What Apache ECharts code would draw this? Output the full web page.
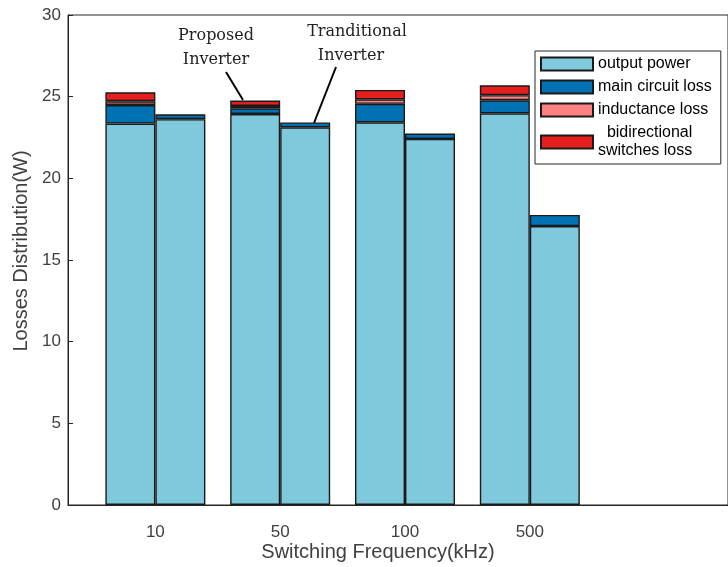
<!DOCTYPE html>
<html><head><meta charset="utf-8">
<script src="https://cdn.jsdelivr.net/npm/echarts@6/dist/echarts.min.js"></script>
<style>html,body{margin:0;padding:0;background:#fff}#c{width:728px;height:567px}</style>
</head><body><div id="c"></div>
<script>
// ---- data ----
const categories = ['10', '50', '100', '500'];
const propOutput = [23.35, 23.94, 23.43, 23.98];
const propMain = [1.14, 0.35, 1.13, 0.80];
const propInductance = [0.23, 0.14, 0.28, 0.31];
const propSwitch = [0.55, 0.33, 0.57, 0.61];
const tradOutput = [23.62, 23.12, 22.41, 17.08];
const tradMain = [0.30, 0.30, 0.33, 0.68];
const yTicks = [0, 5, 10, 15, 20, 25, 30];
const legendNames = ['output power', 'main circuit loss', 'inductance loss', 'bidirectional switches loss'];

const colors = {
  output: '#7FC9DC',
  main: '#0072B4',
  ind: '#FF8282',
  sw: '#E61E1E'
};
const edge = { borderColor: '#1a1a1a', borderWidth: 1.4 };
const FONT = 'Liberation Sans, Arial, sans-serif';

// frame axis spans groups 0.3 .. 5.7 ; bar axis covers groups 0.5 .. 4.5
const frameLeft = 68, frameRightPx = 742;
const groupPx = (frameRightPx - frameLeft) / 5.4;
const barLeft = frameLeft + 0.2 * groupPx;
const barRight = 728 - (frameRightPx - 1.2 * groupPx);

const chart = echarts.init(document.getElementById('c'), null, { renderer: 'canvas' });

function bar(name, stack, vals, color) {
  return {
    type: 'bar', name, stack, data: vals,
    xAxisIndex: 1, yAxisIndex: 1,
    barWidth: 50, barGap: '0%',
    itemStyle: Object.assign({ color }, edge),
    emphasis: { disabled: true }, animation: false
  };
}

chart.setOption({
  backgroundColor: '#fff',
  animation: false,
  grid: [
    { left: frameLeft, top: 15, bottom: 62, right: 728 - frameRightPx, show: true, borderColor: '#262626', borderWidth: 1, backgroundColor: 'transparent' },
    { left: barLeft, top: 15, bottom: 62, right: barRight }
  ],
  legend: {
    data: legendNames,
    orient: 'vertical', left: 535, top: 51,
    borderColor: '#262626', borderWidth: 1, backgroundColor: '#fff',
    padding: [4, 9, 4, 5],
    itemWidth: 52, itemHeight: 13, itemGap: 5,
    icon: 'rect',
    textStyle: { fontFamily: FONT, fontSize: 16, color: '#000', lineHeight: 18 },
    formatter: n => n === 'bidirectional switches loss' ? '  bidirectional\nswitches loss' : n
  },
  xAxis: [
    {
      type: 'value', min: 0.3, max: 5.7, gridIndex: 0,
      name: 'Switching Frequency(kHz)', nameLocation: 'middle', nameGap: 37,
      nameTextStyle: { fontFamily: FONT, fontSize: 20, color: '#404040', padding: [0, 40, 0, 0] },
      axisLine: { show: true, lineStyle: { color: '#262626', width: 1 } },
      axisTick: { show: false }, splitLine: { show: false }, axisLabel: { show: false }
    },
    {
      type: 'category', data: categories, gridIndex: 1,
      axisLine: { show: false }, axisTick: { show: false }, splitLine: { show: false },
      axisLabel: { fontFamily: FONT, fontSize: 17, color: '#404040', margin: 19 }
    }
  ],
  yAxis: [
    {
      type: 'value', min: 0, max: 30, interval: 5, gridIndex: 0,
      name: 'Losses Distribution(W)', nameLocation: 'middle', nameGap: 34,
      nameTextStyle: { fontFamily: FONT, fontSize: 20, color: '#404040', padding: [0, 0, 0, 18] },
      axisLine: { show: true, lineStyle: { color: '#262626', width: 1 } },
      axisTick: { show: true, inside: true, length: 5, lineStyle: { color: '#262626' } },
      splitLine: { show: false },
      axisLabel: { fontFamily: FONT, fontSize: 17, color: '#404040', margin: 7, formatter: v => yTicks.includes(v) ? String(v) : '' }
    },
    {
      type: 'value', min: 0, max: 30, gridIndex: 1, show: false, splitLine: { show: false }
    }
  ],
  series: [
    bar('output power', 'prop', propOutput, colors.output),
    bar('output power', 'trad', tradOutput, colors.output),
    bar('main circuit loss', 'prop', propMain, colors.main),
    bar('main circuit loss', 'trad', tradMain, colors.main),
    bar('inductance loss', 'prop', propInductance, colors.ind),
    bar('bidirectional switches loss', 'prop', propSwitch, colors.sw)
  ],
  graphic: [
    { type: 'text', x: 216, y: 36, style: { text: 'Proposed', font: '16px "DejaVu Serif", serif', fill: '#222', align: 'center', verticalAlign: 'middle' } },
    { type: 'text', x: 216, y: 60, style: { text: 'Inverter', font: '16px "DejaVu Serif", serif', fill: '#222', align: 'center', verticalAlign: 'middle' } },
    { type: 'text', x: 357, y: 32, style: { text: 'Tranditional', font: '16px "DejaVu Serif", serif', fill: '#222', align: 'center', verticalAlign: 'middle' } },
    { type: 'text', x: 351, y: 56, style: { text: 'Inverter', font: '16px "DejaVu Serif", serif', fill: '#222', align: 'center', verticalAlign: 'middle' } },
    { type: 'line', shape: { x1: 226, y1: 72, x2: 243, y2: 100 }, style: { stroke: '#000', lineWidth: 2 } },
    { type: 'line', shape: { x1: 336, y1: 67, x2: 314, y2: 123 }, style: { stroke: '#000', lineWidth: 2 } }
  ]
});
</script>
</body></html>
